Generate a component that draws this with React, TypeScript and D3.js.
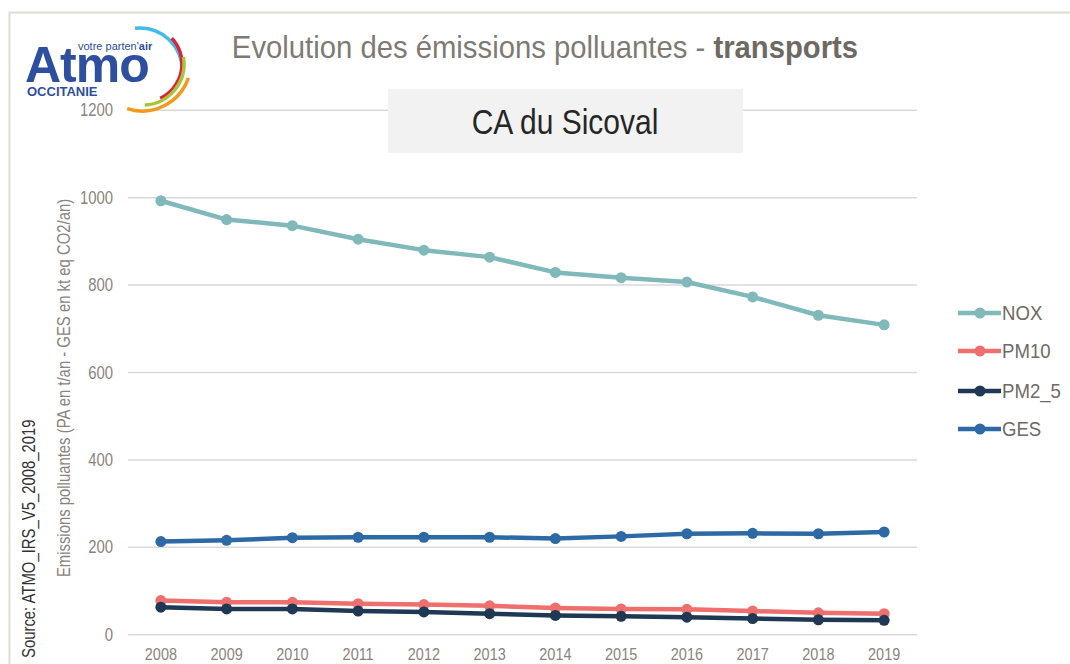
import React from "react";
import * as d3 from "d3";

const years = ["2008","2009","2010","2011","2012","2013","2014","2015","2016","2017","2018","2019"];
const nox = [993, 950, 936, 905, 880, 864, 829, 817, 807, 773, 731, 709];
const pm10 = [78, 74, 74, 71, 69, 66, 61, 59, 58, 54, 50, 48];
const pm25 = [63, 59, 59, 54, 52, 48, 44, 42, 40, 37, 34, 33];
const ges = [213, 216, 222, 223, 223, 223, 220, 225, 231, 232, 231, 235];
const yTicks = [0, 200, 400, 600, 800, 1000, 1200];

const seriesNames = ["NOX", "PM10", "PM2_5", "GES"];
const seriesValues = [nox, pm10, pm25, ges];
const seriesColors = ["#80b9b9", "#ee6f6d", "#1f3853", "#2d6aa5"];

const FONT = "'Liberation Sans', Arial, sans-serif";

type NTProps = {
  x: number; y: number; sx?: number; rotate?: number; size: number; fill: string;
  anchor?: "start" | "middle" | "end"; dy?: string; children: React.ReactNode; weight?: string;
};
function NText({ x, y, sx = 0.85, rotate = 0, size, fill, anchor = "start", dy, children, weight }: NTProps) {
  return (
    <text
      transform={`translate(${x},${y}) rotate(${rotate}) scale(${sx},1)`}
      textAnchor={anchor}
      dy={dy}
      fontFamily={FONT}
      fontSize={size}
      fontWeight={weight}
      fill={fill}
    >
      {children}
    </text>
  );
}

export default function App() {
  const W = 1070, H = 664;
  const x = d3.scaleBand<string>().domain(years).range([128, 917]);
  const y = d3.scaleLinear().domain([0, 1200]).range([634.7, 110.3]);
  const cx = (i: number) => (x(years[i]) as number) + x.bandwidth() / 2;
  const line = d3.line<number>().x((_, i) => cx(i)).y((d) => y(d));

  const arc = (r: number, a0: number, a1: number) =>
    d3.arc()({ innerRadius: r, outerRadius: r, startAngle: a0, endAngle: a1 } as any) as string;

  const legendY = [313, 351, 391, 429];
  const tickFill = "#8a847d";

  return (
    <svg width={W} height={H} style={{ position: "absolute", left: 0, top: 0, background: "#fff" }}>
      <rect x={0} y={0} width={W} height={H} fill="#fff" />
      {/* frame */}
      <path d={`M9.5,${H} V12.5 H${W}`} fill="none" stroke="#dddcd5" strokeWidth={2} />

      {/* gridlines */}
      {yTicks.map((t) => (
        <line key={t} x1={128} x2={917} y1={y(t)} y2={y(t)} stroke="#d9d9d9" strokeWidth={1.5} />
      ))}

      {/* logo */}
      <g>
        <text x={78} y={50} fontFamily={FONT} fontSize={11} fill="#2e4f9e">
          votre parten'<tspan fontWeight="bold">air</tspan>
        </text>
        <text x={25} y={82} fontFamily={FONT} fontSize={50} fontWeight="bold" fill="#2e4f9e" letterSpacing={-1}>Atmo</text>
        <text x={27} y={96} fontFamily={FONT} fontSize={13} fontWeight="bold" fill="#2e4f9e">OCCITANIE</text>
        <g fill="none" strokeWidth={3.5} strokeLinecap="round">
          <path transform="translate(140,70)" d={arc(42, -0.12, 1.6)} stroke="#3fbde6" />
          <path transform="translate(144,64)" d={arc(38, 0.82, 2.7)} stroke="#e0203c" />
          <path transform="translate(143,64)" d={arc(41, 1.4, 3.1)} stroke="#a6c63a" />
          <path transform="translate(142,62)" d={arc(49, 1.9, 3.45)} stroke="#f39a1e" />
        </g>
      </g>

      {/* y tick labels */}
      {yTicks.map((t) => (
        <NText key={t} x={113} y={y(t)} dy="0.35em" anchor="end" size={17.5} fill={tickFill}>{t}</NText>
      ))}

      {/* x tick labels */}
      {years.map((yr, i) => (
        <NText key={yr} x={cx(i)} y={660} anchor="middle" size={17} fill={tickFill}>{yr}</NText>
      ))}

      {/* axis title */}
      <NText x={70} y={388} rotate={-90} anchor="middle" size={17.5} fill={tickFill}>
        Emissions polluantes (PA en t/an - GES en kt eq CO2/an)
      </NText>
      <NText x={35} y={658} rotate={-90} size={17.5} fill="#333">
        Source: ATMO_IRS_V5_2008_2019
      </NText>

      {/* title */}
      <NText x={545} y={58} anchor="middle" size={32} sx={0.915} fill="#7f7a73">
        Evolution des émissions polluantes - <tspan fontWeight="bold" fill="#6e6962">transports</tspan>
      </NText>

      {/* subtitle box */}
      <rect x={388} y={89} width={355} height={64} fill="#f2f2f2" />
      <NText x={565} y={134} anchor="middle" size={35.5} sx={0.845} fill="#262626">CA du Sicoval</NText>

      {/* series */}
      {seriesValues.map((vals, si) => (
        <g key={seriesNames[si]}>
          <path d={line(vals) as string} fill="none" stroke={seriesColors[si]} strokeWidth={4.5} strokeLinejoin="round" />
          {vals.map((v, i) => (
            <circle key={i} cx={cx(i)} cy={y(v)} r={5.5} fill={seriesColors[si]} />
          ))}
        </g>
      ))}

      {/* legend */}
      {seriesNames.map((n, i) => (
        <g key={n}>
          <line x1={958} x2={1001} y1={legendY[i]} y2={legendY[i]} stroke={seriesColors[i]} strokeWidth={4.5} />
          <circle cx={980} cy={legendY[i]} r={5.5} fill={seriesColors[i]} />
          <NText x={1002} y={legendY[i]} dy="0.36em" size={20} sx={0.93} fill="#6f6a64">{n}</NText>
        </g>
      ))}
    </svg>
  );
}
